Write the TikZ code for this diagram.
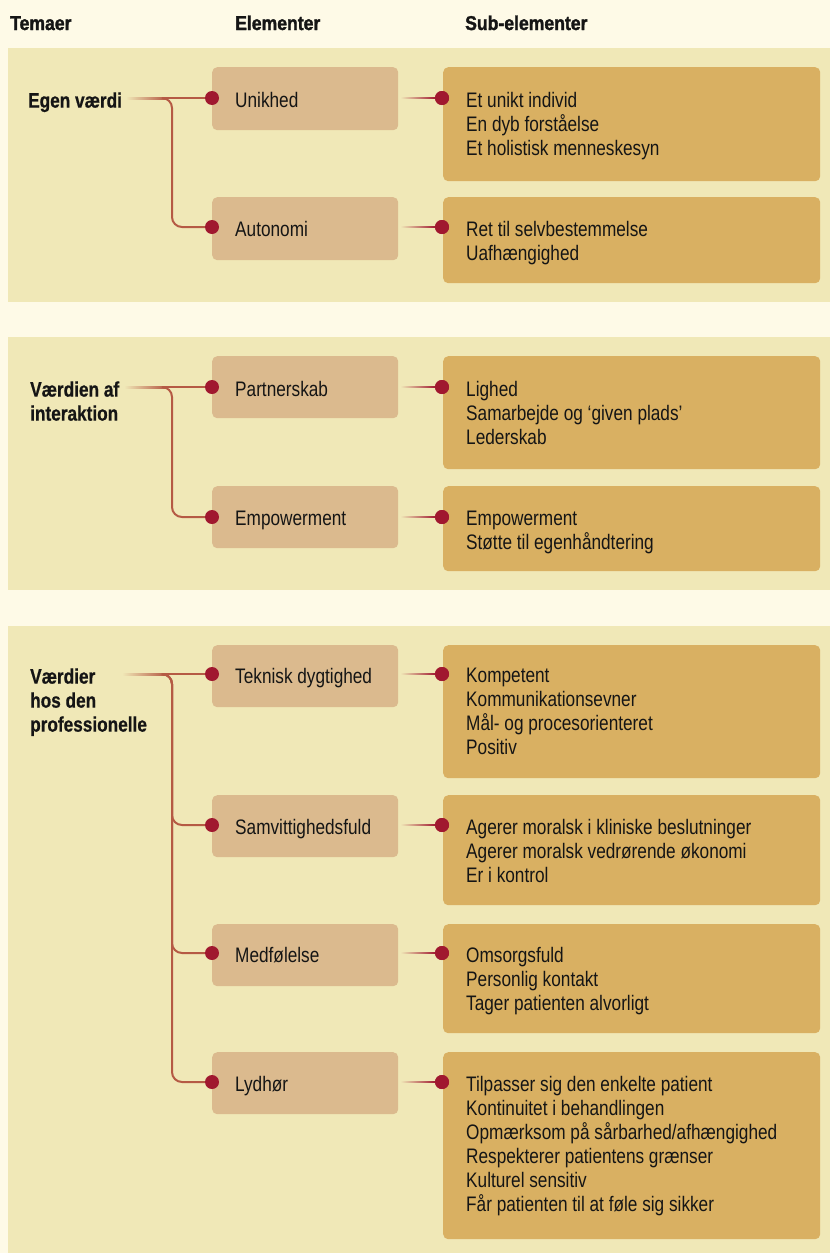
\documentclass[tikz,border=0pt]{standalone}
\usepackage{fontspec}
\setmainfont[FakeStretch=0.82, BoldFeatures={FakeBold=0.6}]{Liberation Sans}
\newfontfamily\hdrfont[FakeStretch=0.88, BoldFeatures={FakeBold=1.6}]{Liberation Sans}
\usetikzlibrary{calc}
\definecolor{bgc}{HTML}{FEFAE7}
\definecolor{panelc}{HTML}{F0E8B7}
\definecolor{elc}{HTML}{DBBA8E}
\definecolor{subc}{HTML}{D9B062}
\definecolor{dotc}{HTML}{A0182F}
\definecolor{linec}{HTML}{B55A44}
\definecolor{txtc}{HTML}{151515}
\newcommand\mkrow[7]{%
  \node[elbox, minimum height=#3pt] (#1e) at (212,#2) {};
  \node[subbox, minimum height=#4pt] (#1s) at (443,#2) {};
  \node[itemtext] (#1et) at (235,#5-7.8) {#6};
  \node[itemtext] (#1st) at (466,#5-7.8) {#7};
  \node[dotnode] (#1d) at (212,#5-2) {};
  \node[dotnode] (#1sd) at (442,#5-2) {};
  \shade[left color=panelc, right color=dotc] ($(#1e.east |- #1sd)+(2,-0.9)$) rectangle ($(#1sd.west)+(1,0.9)$);
  \node[dotnode] at (#1sd) {};
}
\begin{document}
\begin{tikzpicture}[x=1pt,y=-1pt,
  elbox/.style={fill=elc, rounded corners=5pt, draw=none, minimum width=186pt, inner sep=0pt, anchor=north west},
  subbox/.style={fill=subc, rounded corners=5pt, draw=none, minimum width=377pt, inner sep=0pt, anchor=north west},
  dotnode/.style={circle, fill=dotc, minimum size=14pt, inner sep=0pt},
  conn/.style={draw=linec, line width=2pt},
  hdr/.style={font=\hdrfont\bfseries\fontsize{20}{24}\selectfont, text=txtc, anchor=base west, inner sep=0pt},
  theme/.style={font=\bfseries\fontsize{21}{24}\selectfont, text=txtc, align=left, anchor=north west, inner sep=0pt},
  itemtext/.style={font=\fontsize{21}{24}\selectfont, text=txtc, align=left, anchor=north west, inner sep=0pt},
]
\useasboundingbox (0,0) rectangle (830,1253);
\fill[bgc] (0,0) rectangle (830,1253);
\fill[panelc] (8,48) rectangle (830,302);
\fill[panelc] (8,337) rectangle (830,590);
\fill[panelc] (8,626) rectangle (830,1253);

\node[hdr] (h1) at (10,30) {Temaer};
\node[hdr] (h2) at (235,30) {Elementer};
\node[hdr] (h3) at (465,30) {Sub-elementer};

% Panel 1
\mkrow{ra}{67}{63}{114}{100}{Unikhed}{Et unikt individ\\En dyb forståelse\\Et holistisk menneskesyn}
\mkrow{rb}{197}{63}{86}{229}{Autonomi}{Ret til selvbestemmelse\\Uafhængighed}
\node[theme] (t1) at (28,100-7.8) {Egen værdi};
\coordinate (s1) at (126,98);
\coordinate (j1) at (172,98);
\shade[left color=panelc, right color=linec] ($(s1)+(0,-1)$) rectangle ($(j1)+(-6,1)$);
\draw[conn] ($(j1)+(-7,0)$) -- (rad.west);
\draw[conn, rounded corners=10pt] ($(j1)+(-7,0)$) -- (j1) |- (rbd.west);

% Panel 2
\mkrow{rc}{356}{62}{113}{389}{Partnerskab}{Lighed\\Samarbejde og ‘given plads’\\Lederskab}
\mkrow{rd}{486}{62}{85}{519}{Empowerment}{Empowerment\\Støtte til egenhåndtering}
\node[theme] (t2) at (30,389-7.8) {Værdien af\\interaktion};
\coordinate (s2) at (124,387);
\coordinate (j2) at (172,387);
\shade[left color=panelc, right color=linec] ($(s2)+(0,-1)$) rectangle ($(j2)+(-6,1)$);
\draw[conn] ($(j2)+(-7,0)$) -- (rcd.west);
\draw[conn, rounded corners=10pt] ($(j2)+(-7,0)$) -- (j2) |- (rdd.west);

% Panel 3
\mkrow{re}{645}{62}{133}{676}{Teknisk dygtighed}{Kompetent\\Kommunikationsevner\\Mål- og procesorienteret\\Positiv}
\mkrow{rf}{795}{62}{110}{827}{Samvittighedsfuld}{Agerer moralsk i kliniske beslutninger\\Agerer moralsk vedrørende økonomi\\Er i kontrol}
\mkrow{rg}{924}{62}{109}{955}{Medfølelse}{Omsorgsfuld\\Personlig kontakt\\Tager patienten alvorligt}
\mkrow{rh}{1052}{62}{187}{1084}{Lydhør}{Tilpasser sig den enkelte patient\\Kontinuitet i behandlingen\\Opmærksom på sårbarhed/afhængighed\\Respekterer patientens grænser\\Kulturel sensitiv\\Får patienten til at føle sig sikker}
\node[theme] (t3) at (30,676-7.8) {Værdier\\hos den\\professionelle};
\coordinate (s3) at (122,674);
\coordinate (j3) at (172,674);
\shade[left color=panelc, right color=linec] ($(s3)+(0,-1)$) rectangle ($(j3)+(-6,1)$);
\draw[conn] ($(j3)+(-7,0)$) -- (red.west);
\draw[conn, rounded corners=10pt] ($(j3)+(-7,0)$) -- (j3) |- (rfd.west);
\draw[conn, rounded corners=10pt] ($(j3)+(-7,0)$) -- (j3) |- (rgd.west);
\draw[conn, rounded corners=10pt] ($(j3)+(-7,0)$) -- (j3) |- (rhd.west);
\end{tikzpicture}
\end{document}
